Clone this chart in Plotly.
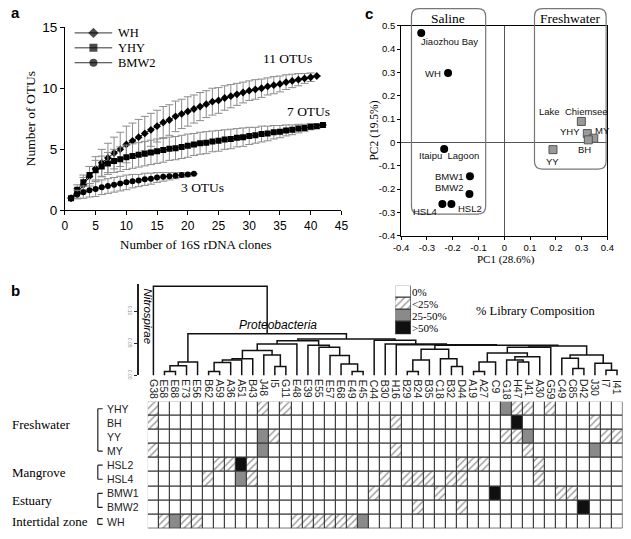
import plotly.graph_objects as go

W, H = 631, 539
def px(x): return x / W
def py(y): return 1 - y / H

SERIF = "Liberation Serif, Times New Roman, serif"
SANS = "Liberation Sans, Arial, sans-serif"

# ---------------- Panel a: rarefaction curves ----------------
clones_WH = list(range(1, 42))
otus_WH = [1.0, 1.4, 2.1, 2.8, 3.4, 3.9, 4.3, 4.7, 5.0, 5.4, 5.7, 6.0, 6.3, 6.6, 6.9,
           7.2, 7.4, 7.7, 7.9, 8.1, 8.3, 8.5, 8.7, 8.9, 9.0, 9.2, 9.35, 9.5, 9.65, 9.8,
           9.9, 10.0, 10.15, 10.25, 10.35, 10.5, 10.6, 10.7, 10.8, 10.9, 11.0]
err_WH = [0, 0.4, 0.6, 0.8, 1.0, 1.1, 1.2, 1.3, 1.4, 1.5, 1.45, 1.45, 1.4, 1.35, 1.3,
          1.3, 1.25, 1.25, 1.2, 1.2, 1.15, 1.15, 1.1, 1.1, 1.05, 1.0, 0.95, 0.9, 0.85, 0.8,
          0.8, 0.75, 0.7, 0.7, 0.65, 0.6, 0.55, 0.5, 0.4, 0.35, 0]

clones_YHY = list(range(1, 43))
otus_YHY = [1.0, 1.7, 2.3, 2.9, 3.3, 3.6, 3.85, 4.05, 4.2, 4.35, 4.45, 4.55, 4.65, 4.75,
            4.85, 4.95, 5.05, 5.1, 5.2, 5.3, 5.4, 5.5, 5.55, 5.65, 5.7, 5.8, 5.85, 5.95,
            6.0, 6.1, 6.15, 6.25, 6.3, 6.4, 6.45, 6.55, 6.6, 6.7, 6.75, 6.85, 6.9, 7.0]
err_YHY = [0, 0.4, 0.6, 0.7, 0.8, 0.85, 0.9, 0.95, 1.0, 1.0, 1.0, 1.0, 1.0, 1.0, 1.0,
           1.0, 0.95, 0.95, 0.95, 0.95, 0.9, 0.9, 0.9, 0.85, 0.85, 0.8, 0.8, 0.75, 0.75,
           0.7, 0.65, 0.65, 0.6, 0.55, 0.5, 0.45, 0.4, 0.35, 0.3, 0.25, 0.15, 0]

clones_BMW2 = list(range(1, 22))
otus_BMW2 = [1.0, 1.3, 1.5, 1.65, 1.75, 1.9, 2.0, 2.1, 2.2, 2.3, 2.4, 2.45, 2.55, 2.6,
             2.7, 2.75, 2.8, 2.85, 2.9, 2.95, 3.0]
err_BMW2 = [0, 0.35, 0.5, 0.55, 0.6, 0.6, 0.6, 0.6, 0.6, 0.6, 0.55, 0.5, 0.5, 0.45, 0.4,
            0.35, 0.3, 0.25, 0.2, 0.15, 0]

series_names = ["WH", "YHY", "BMW2"]
series_symbols = ["diamond", "square", "circle"]
a_xticks = [0, 5, 10, 15, 20, 25, 30, 35, 40, 45]
a_yticks = [0, 5, 10, 15]

# ---------------- Panel c: PCA ----------------
saline_names = ["Jiaozhou Bay", "WH", "Itaipu  Lagoon", "BMW1", "BMW2", "HSL4", "HSL2"]
saline_pc1 = [-0.322, -0.218, -0.233, -0.133, -0.135, -0.240, -0.205]
saline_pc2 = [0.469, 0.298, -0.028, -0.145, -0.221, -0.264, -0.264]
fresh_names = ["Lake  Chiemsee", "YHY", "MY", "BH", "YY"]
fresh_pc1 = [0.299, 0.322, 0.347, 0.326, 0.189]
fresh_pc2 = [0.090, 0.038, 0.018, 0.011, -0.031]
pc1_ticks = [-0.4, -0.3, -0.2, -0.1, 0, 0.1, 0.2, 0.3, 0.4]
pc1_labels = ["-0.4", "-0.3", "-0.2", "-0.1", "0", "0.1", "0.2", "0.3", "0.4"]
pc2_ticks = [-0.4, -0.3, -0.2, -0.1, 0, 0.1, 0.2, 0.3, 0.4, 0.5]
pc2_labels = ["-0.4", "-0.3", "-0.2", "-0.1", "0", "0.1", "0.2", "0.3", "0.4", "0.5"]

# ---------------- Panel b: dendrogram + composition grid ----------------
clone_labels = ["G38", "E58", "E88", "E73", "E56", "B62", "A59", "A36", "A51", "B43",
                "J48", "I5", "G11", "E48", "E39", "E55", "E57", "E68", "E49", "E45",
                "C44", "B30", "H16", "B29", "B24", "B35", "C18", "B32", "D44", "A19",
                "A27", "C9", "G18", "H47", "J41", "A30", "G59", "C49", "C85", "D42",
                "J30", "I7", "I41"]

dendro_links = [
    ("E58", "E88", 0.006), ("n1", "E73", 0.015), ("n2", "E56", 0.021),
    ("B62", "A59", 0.006), ("n4", "A36", 0.020), ("n5", "A51", 0.024),
    ("n6", "B43", 0.026), ("I5", "G11", 0.014), ("J48", "n8", 0.032),
    ("n7", "n9", 0.039), ("n10", "E48", 0.049), ("E49", "E45", 0.006),
    ("E68", "n12", 0.018), ("E57", "n13", 0.031), ("E55", "n14", 0.044),
    ("E39", "n15", 0.047), ("n11", "n16", 0.054), ("B29", "B24", 0.006),
    ("n18", "B35", 0.024), ("B32", "D44", 0.014), ("C18", "n20", 0.026),
    ("n19", "n21", 0.041), ("A19", "A27", 0.006), ("n23", "C9", 0.021),
    ("H47", "J41", 0.021), ("G18", "n25", 0.024), ("n26", "A30", 0.029),
    ("n24", "n27", 0.035), ("n28", "G59", 0.044), ("C85", "D42", 0.011),
    ("C49", "n30", 0.027), ("I7", "I41", 0.008), ("J30", "n32", 0.019),
    ("n31", "n33", 0.032), ("n29", "n34", 0.046), ("n22", "n35", 0.047),
    ("H16", "n36", 0.048), ("B30", "n37", 0.049), ("C44", "n38", 0.055),
    ("n17", "n39", 0.057), ("n3", "n40", 0.065), ("G38", "n41", 0.139),
]
scale_ticks = [0.0, 0.05, 0.10]
scale_labels = ["0.00", "0.05", "0.10"]

sample_rows = ["YHY", "BH", "YY", "MY", "HSL2", "HSL4", "BMW1", "BMW2", "WH"]
# composition level per clone: 1 = <25%, 2 = 25-50%, 3 = >50% (absent = 0%)
cells_YHY = {"G38": 1, "J48": 1, "G11": 1, "G18": 2, "H47": 1, "J41": 1, "G59": 1}
cells_BH = {"G38": 1, "H16": 1, "H47": 3, "J30": 1}
cells_YY = {"J48": 2, "I5": 1, "G18": 1, "H47": 1, "J41": 2, "I7": 1, "I41": 1}
cells_MY = {"G38": 1, "J48": 2, "H16": 1, "J41": 1, "J30": 2}
cells_HSL2 = {"A59": 1, "A36": 1, "A51": 3, "B43": 1, "D44": 1, "A19": 1, "A27": 1, "A30": 1}
cells_HSL4 = {"B62": 1, "A51": 2, "B43": 1, "B30": 1, "B29": 1, "B24": 1, "B35": 1,
              "B32": 1, "D44": 1, "A30": 1}
cells_BMW1 = {"C44": 1, "C18": 1, "C9": 3, "C49": 1, "C85": 1}
cells_BMW2 = {"B24": 1, "D44": 1, "D42": 3}
cells_WH = {"E58": 1, "E88": 2, "E73": 1, "E56": 1, "E48": 1, "E39": 1, "E55": 1,
            "E57": 1, "E68": 1, "E49": 1, "E45": 2}
row_cells = [cells_YHY, cells_BH, cells_YY, cells_MY, cells_HSL2, cells_HSL4,
             cells_BMW1, cells_BMW2, cells_WH]

level_names = ["0%", "<25%", "25-50%", ">50%"]
level_colors = ["white", "white", "#8a8a8a", "#101010"]
level_patterns = ["", "/", "", ""]

group_names = ["Freshwater", "Mangrove", "Estuary", "Intertidal zone"]
group_rows = [(0, 3), (4, 5), (6, 7), (8, 8)]

# ---------------- figure ----------------
fig = go.Figure()

# Panel a traces
for name, xs, ys, es, sym in zip(series_names,
                                 [clones_WH, clones_YHY, clones_BMW2],
                                 [otus_WH, otus_YHY, otus_BMW2],
                                 [err_WH, err_YHY, err_BMW2], series_symbols):
    fig.add_trace(go.Scatter(
        x=xs, y=ys, name=name, mode="lines+markers",
        line=dict(color="black", width=1),
        marker=dict(symbol=sym, size=6, color="black"),
        error_y=dict(type="data", array=es, visible=True, color="#8c8c8c",
                     thickness=1, width=4),
        xaxis="x", yaxis="y", showlegend=False))

# Panel a legend samples (own small axis)
for i, sym in enumerate(series_symbols):
    fig.add_trace(go.Scatter(
        x=[0, 0.5, 1], y=[i, i, i], mode="lines+markers", showlegend=False,
        line=dict(color="#333333", width=1),
        marker=dict(symbol=sym, size=[0, 8, 0], color="black",
                    line=dict(color="black", width=0)),
        xaxis="x6", yaxis="y6", hoverinfo="skip"))

# Panel c traces
fig.add_trace(go.Scatter(x=saline_pc1, y=saline_pc2, mode="markers", showlegend=False,
                         marker=dict(symbol="circle", size=8, color="black"),
                         xaxis="x2", yaxis="y2"))
fig.add_trace(go.Scatter(x=fresh_pc1, y=fresh_pc2, mode="markers", showlegend=False,
                         marker=dict(symbol="square", size=8, color="#999999",
                                     line=dict(color="#555555", width=1)),
                         xaxis="x2", yaxis="y2"))

# Dendrogram
node_x = {n: i + 1 for i, n in enumerate(clone_labels)}
node_h = {n: 0.0 for n in clone_labels}
dx, dy = [], []
for k, (a, b, h) in enumerate(dendro_links, start=1):
    xa, xb = node_x[a], node_x[b]
    dx += [xa, xa, xb, xb, None]
    dy += [node_h[a], h, h, node_h[b], None]
    node_x["n%d" % k] = (xa + xb) / 2
    node_h["n%d" % k] = h
fig.add_trace(go.Scatter(x=dx, y=dy, mode="lines", showlegend=False,
                         line=dict(color="#111111", width=1.5),
                         xaxis="x4", yaxis="y4", hoverinfo="skip"))

# Composition grid
gx, gbase, gcol, gpat = [], [], [], []
for r, cells in enumerate(row_cells):
    for c, lab in enumerate(clone_labels):
        lv = cells.get(lab, 0)
        gx.append(c + 1)
        gbase.append(r)
        gcol.append(level_colors[lv])
        gpat.append(level_patterns[lv])
fig.add_trace(go.Bar(x=gx, y=[1] * len(gx), base=gbase, width=1, showlegend=False,
                     marker=dict(color=gcol, line=dict(color="#333333", width=1),
                                 pattern=dict(shape=gpat, fgcolor="black", size=5,
                                              solidity=0.3, fillmode="overlay")),
                     xaxis="x3", yaxis="y3", hoverinfo="skip"))

# Legend boxes for panel b
fig.add_trace(go.Bar(x=[0] * 4, y=[1] * 4, base=list(range(4)), width=1, showlegend=False,
                     marker=dict(color=level_colors, line=dict(color="#333333", width=1),
                                 pattern=dict(shape=level_patterns, fgcolor="black", size=5,
                                              solidity=0.3, fillmode="overlay")),
                     xaxis="x5", yaxis="y5", hoverinfo="skip"))

ann = []
shapes = []

def txt(x, y, s, size=12, family=SERIF, **kw):
    d = dict(x=px(x), y=py(y), xref="paper", yref="paper", text=s, showarrow=False,
             xanchor="center", yanchor="middle",
             font=dict(family=family, size=size, color=kw.pop("color", "black")))
    d.update(kw)
    ann.append(d)

# panel letters
txt(8, 6, "<b>a</b>", 15, SANS)
txt(370, 7, "<b>c</b>", 15, SANS)
txt(8, 292, "<b>b</b>", 15, SANS)

# panel a labels
txt(23, 115, "Number of OTUs", 13.5, textangle=-90)
txt(193, 244, "Number of 16S rDNA clones", 13)
txt(286, 53, "11 OTUs", 13.5)
txt(308, 107, "7 OTUs", 13.5)
txt(199, 186, "3 OTUs", 13.5)
for i, n in enumerate(series_names):
    ann.append(dict(x=px(111), xref="paper", y=i, yref="y6", text=n, showarrow=False,
                    xanchor="left", yanchor="middle",
                    font=dict(family=SERIF, size=12.5, color="black")))

# panel c labels
txt(510, 259.5, "PC1 (28.6%)", 11)
txt(375, 127, "PC2 (19.5%)", 11.5, textangle=-90)
txt(451, 12, "Saline", 13.5)
txt(576, 12, "Freshwater", 13.5)

saline_lab = {"Jiaozhou Bay": ("left", -2, -9), "WH": ("right", -5, -1),
              "Itaipu  Lagoon": ("center", 5, -7), "BMW1": ("right", -4, 0),
              "BMW2": ("right", -3, 6), "HSL4": ("right", -3, -7), "HSL2": ("left", 5, -4)}
fresh_lab = {"Lake  Chiemsee": ("center", -8, 10), "YHY": ("right", -5, 2),
             "MY": ("left", -1, 8), "BH": ("center", -4, -10), "YY": ("center", 0, -12)}
for names, xs, ys, lab in [(saline_names, saline_pc1, saline_pc2, saline_lab),
                           (fresh_names, fresh_pc1, fresh_pc2, fresh_lab)]:
    for n, x, y in zip(names, xs, ys):
        xa, xs_, ys_ = lab[n]
        ann.append(dict(x=x, y=y, xref="x2", yref="y2", text=n, showarrow=False,
                        xanchor=xa, yanchor="middle", xshift=xs_, yshift=ys_,
                        font=dict(family=SANS, size=9.5, color="#111111")))

def rrect(x0, y0, x1, y1, r):
    X = lambda v: "%.5f" % px(v)
    Y = lambda v: "%.5f" % py(v)
    return ("M %s,%s L %s,%s Q %s,%s %s,%s L %s,%s Q %s,%s %s,%s L %s,%s Q %s,%s %s,%s "
            "L %s,%s Q %s,%s %s,%s Z") % (
        X(x0 + r), Y(y0), X(x1 - r), Y(y0), X(x1), Y(y0), X(x1), Y(y0 + r),
        X(x1), Y(y1 - r), X(x1), Y(y1), X(x1 - r), Y(y1),
        X(x0 + r), Y(y1), X(x0), Y(y1), X(x0), Y(y1 - r),
        X(x0), Y(y0 + r), X(x0), Y(y0), X(x0 + r), Y(y0))

shapes.append(dict(type="path", xref="paper", yref="paper", path=rrect(413.3, 1.7, 489.3, 213, 8),
                   line=dict(color="#777777", width=1.2), layer="above"))
shapes.append(dict(type="path", xref="paper", yref="paper", path=rrect(539.3, 1.7, 612.7, 166.7, 8),
                   line=dict(color="#777777", width=1.2), layer="above"))

# panel b texts
for i, lab in enumerate(clone_labels):
    ann.append(dict(x=i + 1, xref="x3", y=py(381), yref="paper", text=lab, showarrow=False,
                    textangle=90, xanchor="center", yanchor="top",
                    font=dict(family=SANS, size=10.5, color="#222222")))
for r, lab in enumerate(sample_rows):
    ann.append(dict(x=px(99), xref="paper", y=r + 0.5, yref="y3", text=lab, showarrow=False,
                    xanchor="left", yanchor="middle",
                    font=dict(family=SANS, size=10.5, color="#222222")))
group_shift = [5, 0, 0, 0]
for g, (r0, r1) in enumerate(group_rows):
    ym = (r0 + r1) / 2 + 0.5
    ann.append(dict(x=px(2), xref="paper", y=ym, yref="y3", text=group_names[g],
                    showarrow=False, xanchor="left", yanchor="middle", yshift=group_shift[g],
                    font=dict(family=SERIF, size=13, color="black")))
    top = r0 + 0.5 if r1 > r0 else r0 + 0.3
    bot = r1 + 0.5 if r1 > r0 else r1 + 0.7
    for seg in [(92, top, 92, bot), (92, top, 97, top), (92, bot, 97, bot)]:
        shapes.append(dict(type="line", xref="paper", yref="y3", x0=px(seg[0]), y0=seg[1],
                           x1=px(seg[2]), y1=seg[3], line=dict(color="#222222", width=1.2)))

txt(143, 318, "<i>Nitrospirae</i>", 11.5, SANS, textangle=90)
txt(277, 327, "<i>Proteobacteria</i>", 12, SANS)
txt(540, 313, "% Library Composition", 12.5)

ax_common = dict(showgrid=False, zeroline=False)
fig.update_layout(
    width=W, height=H, margin=dict(l=0, r=0, t=0, b=0),
    paper_bgcolor="white", plot_bgcolor="rgba(0,0,0,0)",
    barmode="overlay", bargap=0, showlegend=False,
    xaxis=dict(domain=[px(58.3), px(341.5)], range=[0, 45], tickvals=a_xticks,
               ticks="outside", ticklen=4, showline=True, linecolor="black", linewidth=1,
               tickcolor="black",
               tickfont=dict(family=SANS, size=12, color="black"), anchor="y", **ax_common),
    yaxis=dict(domain=[py(209.3), py(20.7)], range=[0, 15], tickvals=a_yticks,
               ticks="outside", ticklen=4, showline=True, linecolor="black", linewidth=1,
               tickcolor="black",
               tickfont=dict(family=SANS, size=13.5, color="black"), anchor="x", **ax_common),
    xaxis6=dict(domain=[px(68), px(107)], range=[0, 1], visible=False, anchor="y6",
                **ax_common),
    yaxis6=dict(domain=[py(65), py(19)], range=[2.5, -0.5], visible=False, anchor="x6",
                **ax_common),
    xaxis2=dict(domain=[px(402.7), px(614)], range=[-0.4, 0.4], tickvals=pc1_ticks,
                ticktext=pc1_labels, ticks="outside", ticklen=3, showline=True, mirror=True,
                linecolor="black", linewidth=1, showgrid=False, zeroline=True,
                zerolinecolor="#555555", zerolinewidth=1, tickcolor="black",
                tickfont=dict(family=SANS, size=9.5, color="black"), anchor="y2"),
    yaxis2=dict(domain=[py(235.3), py(19.3)], range=[-0.4, 0.5], tickvals=pc2_ticks,
                ticktext=pc2_labels, ticks="outside", ticklen=3, showline=True, mirror=True,
                linecolor="black", linewidth=1, showgrid=False, zeroline=True,
                zerolinecolor="#555555", zerolinewidth=1, tickcolor="black",
                tickfont=dict(family=SANS, size=9.5, color="black"), anchor="x2"),
    xaxis3=dict(domain=[px(143.3), px(629.5)], range=[0.5, 43.5], visible=False,
                anchor="y3", **ax_common),
    yaxis3=dict(domain=[py(536.5), py(406)], range=[9, 0], visible=False,
                anchor="x3", **ax_common),
    xaxis4=dict(domain=[px(143.3), px(629.5)], range=[0.5, 43.5], visible=False,
                anchor="y4", **ax_common),
    yaxis4=dict(domain=[py(379), py(285)], range=[0, (379 - 285) / 660], anchor="free",
                position=px(133), tickvals=scale_ticks, ticktext=scale_labels,
                ticks="outside", ticklen=3, showline=True, linecolor="#222222", linewidth=1.5,
                tickcolor="#222222",
                tickangle=90, tickfont=dict(family=SANS, size=5, color="#888888"),
                **ax_common),
    xaxis5=dict(domain=[px(396.7), px(412.7)], range=[-0.5, 0.5], visible=False,
                anchor="y5", **ax_common),
    yaxis5=dict(domain=[py(336.7), py(286.7)], range=[4, 0], anchor="x5", side="right",
                tickvals=[0.5, 1.5, 2.5, 3.5], ticktext=level_names, ticks="",
                showline=False, tickfont=dict(family=SERIF, size=11, color="black"),
                **ax_common),
    annotations=ann, shapes=shapes,
)

fig.write_html("out.html", config={"displayModeBar": False},
               post_script="document.body.style.margin='0';document.body.style.overflow='hidden';")
